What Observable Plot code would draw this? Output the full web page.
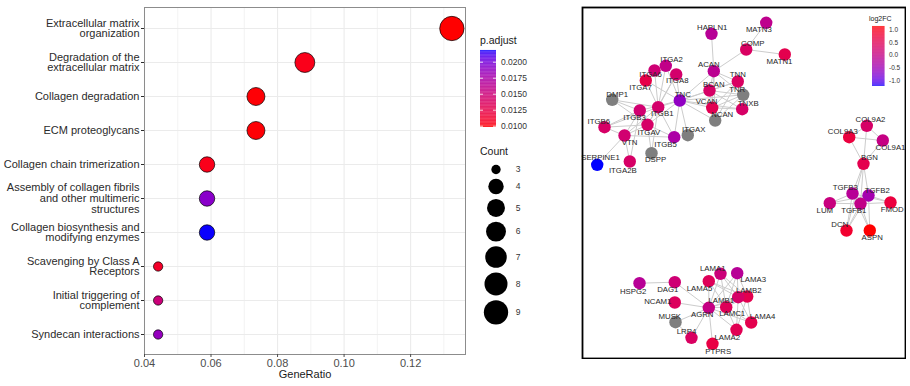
<!DOCTYPE html>
<html><head><meta charset="utf-8">
<script src="https://cdn.jsdelivr.net/npm/d3@7"></script>
<script src="https://cdn.jsdelivr.net/npm/@observablehq/plot@0.6"></script>
<style>
body{margin:0;background:#fff;}
#wrap{position:relative;width:910px;height:386px;overflow:hidden;font-family:"Liberation Sans",Arial,sans-serif;background:#fff;}
#wrap > *{position:absolute;margin:0;}
.ttl{line-height:1;color:#1a1a1a;white-space:nowrap;}
</style></head><body><div id="wrap"></div>
<script>
// ---------- enrichment dot plot data ----------
const terms = ["Extracellular matrix\norganization", "Degradation of the\nextracellular matrix", "Collagen degradation", "ECM proteoglycans", "Collagen chain trimerization", "Assembly of collagen fibrils\nand other multimeric\nstructures", "Collagen biosynthesis and\nmodifying enzymes", "Scavenging by Class A\nReceptors", "Initial triggering of\ncomplement", "Syndecan interactions"];
const geneRatio = [0.1324, 0.0882, 0.0735, 0.0735, 0.0588, 0.0588, 0.0588, 0.0441, 0.0441, 0.0441];
const geneCount = [9, 6, 5, 5, 4, 4, 4, 3, 3, 3];
const pAdjust = [0.0098, 0.0104, 0.0099, 0.0099, 0.0104, 0.0192, 0.0218, 0.0110, 0.0150, 0.0186];
const xTicks = [0.04, 0.06, 0.08, 0.10, 0.12];
const xMinorTicks = [0.05, 0.07, 0.09, 0.11, 0.13];
const pTicks = [0.0100, 0.0125, 0.0150, 0.0175, 0.0200];
const countKeys = [3, 4, 5, 6, 7, 8, 9];

// ---------- network data ----------
const geneNames = ["HAPLN1","MATN3","COMP","MATN1","ACAN","TNN","TNR","BCAN","TNC","VCAN","TNXB","NCAN","ITGA2","ITGA6","ITGA8","ITGA7","DMP1","ITGB3","ITGB1","ITGB6","ITGAV","VTN","ITGB5","ITGAX","DSPP","SERPINE1","ITGA2B",
 "COL9A2","COL9A3","COL9A1","BGN","TGFB3","TGFB2","TGFB1","LUM","FMOD","DCN","ASPN",
 "LAMA1","LAMA3","LAMA5","LAMB2","LAMB1","DAG1","HSPG2","NCAM1","AGRN","LAMC1","LAMA4","MUSK","LRP4","LAMA2","PTPRS"];
const layoutX = [711.0,765.7,745.7,784.3,713.3,737.3,742.7,709.0,679.3,711.7,741.7,714.7,665.3,654.0,675.7,645.3,611.7,639.3,657.7,604.0,647.0,624.0,673.7,687.3,651.0,596.7,629.3,
 866.3,848.7,882.3,863.0,852.0,868.0,860.0,829.3,890.0,846.0,869.3,
 720.0,736.7,708.3,746.7,737.7,674.3,639.0,674.3,708.3,725.7,750.7,675.0,691.0,736.0,712.0];
const layoutY = [33.3,22.3,49.0,54.0,70.7,81.0,94.3,90.0,100.0,107.3,108.7,120.0,65.3,70.0,74.0,80.0,99.3,110.0,106.7,126.7,124.3,135.0,136.7,134.7,152.7,164.3,161.0,
 125.3,136.7,140.0,163.3,193.0,195.0,203.3,202.7,202.0,230.0,230.0,
 273.3,272.7,280.7,296.0,296.7,281.7,282.7,302.0,307.3,306.7,322.0,321.7,337.3,329.3,343.3];
const labelX = [711.7,758.3,752.3,779.0,708.3,737.3,736.7,713.3,682.3,706.0,747.7,721.7,671.0,650.0,676.7,640.0,616.7,634.0,661.7,598.3,648.3,629.0,665.0,693.3,655.0,600.0,622.3,
 870.0,842.3,890.0,869.0,844.7,876.7,853.3,824.3,891.7,839.3,871.7,
 712.3,752.7,699.0,748.3,720.7,667.3,632.7,657.3,701.7,731.7,762.0,669.3,686.0,726.7,717.7];
const labelY = [26.7,29.3,42.7,60.7,64.0,74.0,89.3,84.0,94.0,100.7,102.7,114.3,59.3,74.0,80.0,86.7,94.0,116.7,113.3,120.7,131.7,142.3,144.0,128.7,158.7,156.7,170.0,
 118.7,130.7,147.3,157.3,187.3,190.0,210.0,210.0,208.7,224.3,237.3,
 267.7,278.7,288.3,290.0,300.0,289.0,290.7,301.0,314.3,313.3,316.0,315.7,330.7,336.7,350.7];
const log2FC = [-0.2,-0.1,0.35,0.55,-0.15,0.35,null,0.3,-0.65,0.5,0.3,null,-0.05,0.15,0.25,0.6,null,0.2,0.25,0.3,0.3,0.2,-0.35,null,null,-1.24,0.3,
 0.3,0.7,0.0,0.55,-0.2,-0.45,-0.05,0.05,0.7,0.85,1.13,
 0.1,-0.2,0.45,0.55,0.3,0.15,-0.2,0.4,0.0,0.45,0.55,null,0.35,0.5,0.65];
const fcTicks = [-1.0, -0.5, 0.0, 0.5, 1.0];
const edges = [
 ["HAPLN1","ACAN"],["MATN3","COMP"],["COMP","MATN1"],["COMP","ACAN"],
 ["ACAN","TNC"],["ACAN","BCAN"],["ACAN","VCAN"],["ACAN","NCAN"],["ACAN","TNR"],["ACAN","TNN"],
 ["TNC","BCAN"],["TNC","VCAN"],["TNC","NCAN"],["TNC","TNR"],["TNC","TNN"],["TNC","TNXB"],
 ["BCAN","TNR"],["BCAN","TNN"],["BCAN","TNXB"],["BCAN","NCAN"],["VCAN","TNR"],["VCAN","TNXB"],["VCAN","NCAN"],["NCAN","TNR"],["NCAN","TNN"],["TNR","TNXB"],["VCAN","TNN"],
 ["TNC","ITGB1"],["TNC","ITGA8"],["TNC","ITGA7"],["TNC","ITGA2"],["TNC","ITGAV"],["TNC","ITGB3"],["TNC","ITGAX"],["TNC","ITGB5"],
 ["ITGB1","ITGA2"],["ITGB1","ITGA6"],["ITGB1","ITGA7"],["ITGB1","ITGA8"],["ITGB1","ITGAV"],["ITGB1","VTN"],["ITGB1","DMP1"],["ITGB1","ITGB5"],["ITGB1","DSPP"],["ITGB1","ITGB6"],
 ["DMP1","ITGB3"],["DMP1","ITGAV"],["ITGB6","ITGAV"],["ITGB6","VTN"],["ITGB6","ITGB3"],
 ["VTN","SERPINE1"],["VTN","ITGA2B"],["VTN","ITGB3"],["VTN","ITGAV"],["VTN","ITGB5"],
 ["ITGAV","ITGB3"],["ITGAV","ITGB5"],["ITGAV","ITGA8"],["ITGAV","DSPP"],["ITGA2B","ITGB3"],
 ["COL9A2","COL9A3"],["COL9A2","COL9A1"],["COL9A3","COL9A1"],["COL9A2","BGN"],["COL9A3","BGN"],["COL9A1","BGN"],
 ["BGN","TGFB3"],["BGN","TGFB1"],["BGN","TGFB2"],["BGN","DCN"],
 ["TGFB1","LUM"],["TGFB1","FMOD"],["TGFB1","DCN"],["TGFB1","ASPN"],["TGFB2","LUM"],["TGFB2","FMOD"],["TGFB2","DCN"],["TGFB2","ASPN"],
 ["TGFB3","LUM"],["TGFB3","FMOD"],["TGFB3","DCN"],["TGFB3","ASPN"],["TGFB1","TGFB2"],["TGFB1","TGFB3"],
 ["HSPG2","DAG1"],["DAG1","AGRN"],["NCAM1","AGRN"],["MUSK","AGRN"],["LRP4","AGRN"],["MUSK","LRP4"],["PTPRS","AGRN"],
 ["AGRN","LAMA1"],["AGRN","LAMA5"],["AGRN","LAMB1"],["AGRN","LAMB2"],["AGRN","LAMC1"],["AGRN","LAMA2"],["AGRN","LAMA4"],["AGRN","LAMA3"],
 ["LAMA1","LAMB1"],["LAMA1","LAMB2"],["LAMA1","LAMC1"],["LAMA3","LAMB1"],["LAMA3","LAMB2"],["LAMA3","LAMC1"],
 ["LAMA5","LAMB1"],["LAMA5","LAMB2"],["LAMA5","LAMC1"],["LAMA2","LAMB1"],["LAMA2","LAMB2"],["LAMA2","LAMC1"],
 ["LAMA4","LAMB1"],["LAMA4","LAMB2"],["LAMA4","LAMC1"],["LAMB1","LAMC1"],["LAMB2","LAMC1"],["LAMB1","LAMB2"]
];

// ---------- helpers ----------
const wrap = document.getElementById("wrap");
function place(el, left, top) { el.style.left = left + "px"; el.style.top = top + "px"; wrap.appendChild(el); return el; }
function title(txt, left, top, size) { const d = document.createElement("div"); d.className = "ttl"; d.textContent = txt; d.style.fontSize = size + "px"; return place(d, left, top); }
const FONT = "Liberation Sans, Arial, sans-serif";
const sizeT = c => Math.sqrt((c - 3) / 6);           // area-proportional size mapping (ggplot area_pal)
const rRange = [4.65, 12.15];
const pColor = {type: "linear", domain: [0.0098, 0.02183], range: ["red", "blue"], interpolate: d3.interpolateLab};

// ---------- left: dot plot ----------
const dotData = terms.map((t, i) => ({term: t, ratio: geneRatio[i], count: geneCount[i], p: pAdjust[i]}));
const dotPlot = Plot.plot({
  width: 470, height: 386,
  marginLeft: 144, marginRight: 5, marginTop: 7, marginBottom: 32,
  style: {fontFamily: FONT, background: "transparent"},
  x: {domain: [0.04, 0.1365]},
  y: {type: "point", domain: terms, padding: 0.6},
  r: {type: "linear", domain: [0, 1], range: rRange},
  color: pColor,
  marks: [
    Plot.gridX(xMinorTicks, {stroke: "#ebebeb", strokeOpacity: 1, strokeWidth: 0.6}),
    Plot.gridX(xTicks, {stroke: "#ebebeb", strokeOpacity: 1, strokeWidth: 1.1}),
    Plot.gridY(terms, {stroke: "#ebebeb", strokeOpacity: 1, strokeWidth: 1.1}),
    Plot.frame({stroke: "#8c8c8c", strokeWidth: 1}),
    Plot.dot(dotData, {x: "ratio", y: "term", r: d => sizeT(d.count), fill: "p", stroke: "black", strokeWidth: 0.7}),
    Plot.axisX(xTicks, {tickSize: 3, tickPadding: 1.5, fontSize: 11, color: "#4d4d4d", tickFormat: d => d.toFixed(2), label: null}),
    Plot.axisY({tickSize: 3, tickPadding: 2, fontSize: 11, lineHeight: 0.98, color: "#2b2b2b", label: null}),
    Plot.text(["GeneRatio"], {frameAnchor: "bottom", dy: 23, text: d => d, fontSize: 11, fill: "#1a1a1a"})
  ]
});
place(dotPlot, 0, 0);

// p.adjust colour bar
title("p.adjust", 480, 35, 10.5);
const pSlices = d3.range(0, 100).map(i => {
  const [a, b] = pColor.domain; const s = (b - a) / 100;
  return {y1: a + i * s, y2: a + (i + 1.05) * s, v: a + (i + 0.5) * s};
});
const pLegend = Plot.plot({
  width: 62, height: 87, marginLeft: 0, marginRight: 46, marginTop: 5, marginBottom: 5,
  style: {fontFamily: FONT, background: "transparent", overflow: "visible"},
  y: {domain: pColor.domain},
  color: pColor,
  marks: [
    Plot.rect(pSlices, {y1: "y1", y2: "y2", fill: "v"}),
    Plot.tickY(pTicks, {y: d => d, stroke: "white", strokeWidth: 0.8, insetRight: 13}),
    Plot.tickY(pTicks, {y: d => d, stroke: "white", strokeWidth: 0.8, insetLeft: 13}),
    Plot.axisY(pTicks, {anchor: "right", tickSize: 0, tickPadding: 4.5, fontSize: 8.5, color: "#333", tickFormat: d => d.toFixed(4), label: null})
  ]
});
place(pLegend, 480, 45);

// Count size legend
title("Count", 480, 146, 10.5);
const rPx = d3.scaleLinear([0, 1], rRange);
let acc = 169 - rPx(sizeT(countKeys[0]));
const countData = countKeys.map(c => {
  const r = rPx(sizeT(c));
  const cy = acc + r; acc = cy + r + 4.7;
  return {c, cy, t: sizeT(c)};
});
const countLegend = Plot.plot({
  width: 50, height: 175, margin: 0,
  style: {fontFamily: FONT, background: "transparent", overflow: "visible"},
  x: {domain: [480, 530], range: [0, 50], axis: null},
  y: {domain: [160, 335], range: [0, 175], axis: null},
  r: {type: "linear", domain: [0, 1], range: rRange},
  marks: [
    Plot.dot(countData, {x: () => 495.5, y: "cy", r: "t", fill: "black"}),
    Plot.text(countData, {x: () => 517.5, y: "cy", text: d => String(d.c), fontSize: 8.5, fill: "#333"})
  ]
});
place(countLegend, 480, 160);

// ---------- right: network ----------
const nodes = geneNames.map((g, i) => ({name: g, x: layoutX[i], y: layoutY[i], lx: labelX[i], ly: labelY[i], fc: log2FC[i]}));
const byName = new Map(nodes.map(d => [d.name, d]));
const links = edges.map(([a, b]) => ({a: byName.get(a), b: byName.get(b)}));
const fcColor = {type: "linear", domain: [-1.24, 1.13], range: ["blue", "red"], interpolate: d3.interpolateLab};
const net = Plot.plot({
  width: 325, height: 353, margin: 0,
  style: {fontFamily: FONT, background: "transparent"},
  x: {domain: [581, 906], range: [0, 325], axis: null},
  y: {domain: [6, 359], range: [0, 353], axis: null},
  color: fcColor,
  marks: [
    Plot.link(links, {x1: d => d.a.x, y1: d => d.a.y, x2: d => d.b.x, y2: d => d.b.y, stroke: "#cccccc", strokeWidth: 1}),
    Plot.dot(nodes.filter(d => d.fc == null), {x: "x", y: "y", r: 6.2, fill: "#7f7f7f"}),
    Plot.dot(nodes.filter(d => d.fc != null), {x: "x", y: "y", r: 6.2, fill: "fc"}),
    Plot.text(nodes, {x: "lx", y: "ly", text: "name", fontSize: 7.8, fill: "#262626"}),
    Plot.frame({stroke: "black", strokeWidth: 1.8, inset: 1})
  ]
});
place(net, 581, 6);

// log2FC colour bar
title("log2FC", 869, 15, 7);
const fSlices = d3.range(0, 100).map(i => {
  const [a, b] = fcColor.domain; const s = (b - a) / 100;
  return {y1: a + i * s, y2: a + (i + 1.05) * s, v: a + (i + 0.5) * s};
});
const fcLegend = Plot.plot({
  width: 33, height: 70, marginLeft: 0, marginRight: 20.5, marginTop: 5, marginBottom: 5,
  style: {fontFamily: FONT, background: "transparent", overflow: "visible"},
  y: {domain: fcColor.domain},
  color: fcColor,
  marks: [
    Plot.rect(fSlices, {y1: "y1", y2: "y2", fill: "v"}),
    Plot.axisY(fcTicks, {anchor: "right", tickSize: 0, tickPadding: 4, fontSize: 6.5, color: "#333", tickFormat: d => d.toFixed(1), label: null})
  ]
});
place(fcLegend, 872, 21);
</script></body></html>
